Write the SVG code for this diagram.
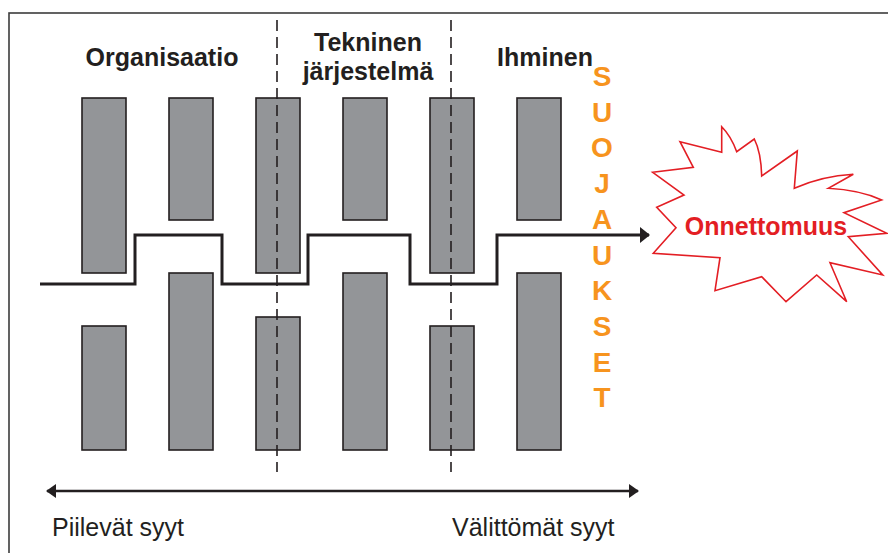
<svg xmlns="http://www.w3.org/2000/svg" width="888" height="553" viewBox="0 0 888 553">
  <defs>
    <style>
      .frame { fill: none; stroke: #3c3c3c; stroke-width: 1.6; }
      .block rect { fill: #939598; stroke: #231f20; stroke-width: 1.6; }
      .divider { stroke: #231f20; stroke-width: 1.6; stroke-dasharray: 11 6; fill: none; }
      .path { fill: none; stroke: #231f20; stroke-width: 3; stroke-linejoin: miter; }
      .scale { fill: none; stroke: #231f20; stroke-width: 2.5; }
      .head { font-family: "Liberation Sans", Arial, sans-serif; font-weight: bold; font-size: 25px; fill: #231f20; text-anchor: middle; }
      .shield { font-family: "Liberation Sans", Arial, sans-serif; font-weight: bold; font-size: 28px; fill: #f7941e; text-anchor: middle; }
      .cause { font-family: "Liberation Sans", Arial, sans-serif; font-size: 25px; fill: #231f20; }
      .burst { fill: #ffffff; stroke: #e31e24; stroke-width: 1.6; stroke-linejoin: miter; }
      .accident { font-family: "Liberation Sans", Arial, sans-serif; font-weight: bold; font-size: 25px; fill: #e31e24; text-anchor: middle; }
    </style>
    <marker id="head" viewBox="0 0 10 14" refX="9" refY="7" markerWidth="10" markerHeight="14" markerUnits="userSpaceOnUse" orient="auto-start-reverse">
      <path d="M0,0 L10,7 L0,14 Z" fill="#231f20"/>
    </marker>
    <marker id="head2" viewBox="0 0 10 16" refX="9" refY="8" markerWidth="10" markerHeight="16" markerUnits="userSpaceOnUse" orient="auto-start-reverse">
      <path d="M0,0 L10,8 L0,16 Z" fill="#231f20"/>
    </marker>
  </defs>

  <rect x="9" y="13" width="900" height="560" class="frame"/>

  <!-- column headers -->
  <g id="header-organisaatio"><text class="head" x="162" y="66">Organisaatio</text></g>
  <g id="header-tekninen"><text class="head" x="368" y="51">Tekninen</text><text class="head" x="368" y="80">järjestelmä</text></g>
  <g id="header-ihminen"><text class="head" x="545" y="66">Ihminen</text></g>

  <!-- barrier blocks: upper row and lower row -->
  <g id="barrier-1" class="block"><rect x="82" y="98" width="44" height="175"/><rect x="82" y="326" width="44" height="124"/></g>
  <g id="barrier-2" class="block"><rect x="169" y="98" width="44" height="122"/><rect x="169" y="273" width="44" height="177"/></g>
  <g id="barrier-3" class="block"><rect x="256" y="98" width="44" height="175"/><rect x="256" y="317" width="44" height="133"/></g>
  <g id="barrier-4" class="block"><rect x="343" y="98" width="44" height="122"/><rect x="343" y="273" width="44" height="177"/></g>
  <g id="barrier-5" class="block"><rect x="430" y="98" width="44" height="175"/><rect x="430" y="326" width="44" height="124"/></g>
  <g id="barrier-6" class="block"><rect x="517" y="98" width="44" height="122"/><rect x="517" y="273" width="44" height="177"/></g>

  <!-- section dividers -->
  <line class="divider" x1="277" y1="20" x2="277" y2="472"/>
  <line class="divider" x1="451" y1="20" x2="451" y2="472"/>

  <!-- SUOJAUKSET -->
  <g id="suojaukset" class="shield">
    <text x="602" y="86">S</text>
    <text x="602" y="122">U</text>
    <text x="602" y="157">O</text>
    <text x="602" y="193">J</text>
    <text x="602" y="229">A</text>
    <text x="602" y="265">U</text>
    <text x="602" y="300">K</text>
    <text x="602" y="336">S</text>
    <text x="602" y="372">E</text>
    <text x="602" y="407">T</text>
  </g>

  <!-- accident burst -->
  <g id="onnettomuus">
    <path class="burst" d="M680,141.7 L721.7,152.3 L721.7,126.7 Q731,136 736.7,151.7 L754.3,139 Q761,152 761.7,176 L797.3,151 L794.3,188.3 Q822,176 853.3,174.3 L828.3,188.3 Q860,190 881.7,200 L844,212.7 L886.7,233.3 L848.3,236.7 L882.7,275 L830,262.7 L846.7,301.7 L816.7,275 L786,301.7 L761.7,276.7 L715,290.7 L720,257.7 L653.3,253.3 L676,227.7 L656.7,207.3 L684,195 L652.7,172.3 L693.3,167.3 Z"/>
    <text class="accident" x="766" y="235">Onnettomuus</text>
  </g>

  <!-- connectors -->
  <g id="connectors">
    <path class="path" marker-end="url(#head2)" d="M40,284 H135 V235 H222 V284 H308 V235 H410 V284 H497 V235 H649"/>
    <line class="scale" x1="47" y1="491" x2="638" y2="491" marker-start="url(#head)" marker-end="url(#head)"/>
  </g>

  <!-- cause scale labels -->
  <g id="labels">
    <text class="cause" x="52" y="536">Piilevät syyt</text>
    <text class="cause" x="452" y="536">Välittömät syyt</text>
  </g>
</svg>
